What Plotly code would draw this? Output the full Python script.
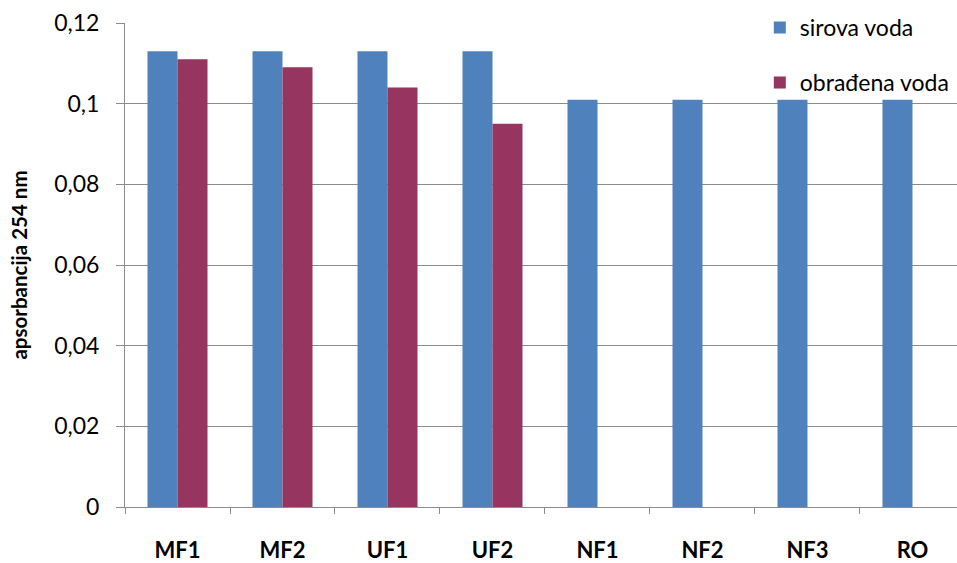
import plotly.graph_objects as go

# membrane processes on the x axis
categories = ["MF1", "MF2", "UF1", "UF2", "NF1", "NF2", "NF3", "RO"]
# UV absorbance at 254 nm
sirova_voda = [0.113, 0.113, 0.113, 0.113, 0.101, 0.101, 0.101, 0.101]
obradjena_voda = [0.111, 0.109, 0.104, 0.095, None, None, None, None]

y_ticks = [0, 0.02, 0.04, 0.06, 0.08, 0.1, 0.12]
y_tick_text = ["0", "0,02", "0,04", "0,06", "0,08", "0,1", "0,12"]

BLUE = "#4F81BD"
PURPLE = "#953560"
GRID = "#8C8C8C"
FONT = "Lato"

fig = go.Figure()
fig.add_trace(go.Bar(
    x=categories, y=sirova_voda, name="sirova voda",
    marker=dict(color=BLUE, line=dict(width=0)),
    legendgroup="a",
))
fig.add_trace(go.Bar(
    x=categories, y=obradjena_voda, name="obrađena voda",
    marker=dict(color=PURPLE, line=dict(width=0)),
    legendgroup="b",
))

fig.update_layout(
    width=957, height=563,
    margin=dict(l=125, r=0, t=23, b=53),
    paper_bgcolor="white", plot_bgcolor="white",
    barmode="group", bargap=0.4286, bargroupgap=0,
    font=dict(family=FONT, size=20, color="black"),
    showlegend=True,
    legend=dict(
        x=0.763, xanchor="left", y=1.035, yanchor="top",
        bgcolor="rgba(0,0,0,0)", font=dict(size=23),
        tracegroupgap=22, traceorder="grouped",
        itemwidth=30,
    ),
)

fig.update_xaxes(
    type="category",
    range=[-0.5, 7.424],
    showgrid=False,
    showline=True, linecolor=GRID, linewidth=1,
    ticks="outside", tickson="boundaries", ticklen=6, tickcolor=GRID,
    tickfont=dict(family=FONT, size=22, color="black", weight="bold"),
    ticklabelstandoff=24,
)
fig.update_yaxes(
    range=[0, 0.12],
    tickvals=y_ticks, ticktext=y_tick_text,
    showgrid=True, gridcolor=GRID, gridwidth=1,
    showline=True, linecolor=GRID, linewidth=1,
    ticks="outside", ticklen=8, tickcolor=GRID,
    tickfont=dict(family=FONT, size=23, color="black"),
    ticklabelstandoff=12,
    zeroline=False,
    title=dict(text="apsorbancija 254 nm",
               font=dict(family=FONT, size=20.5, color="black", weight="bold"),
               standoff=20),
)

fig.write_html("out.html")
